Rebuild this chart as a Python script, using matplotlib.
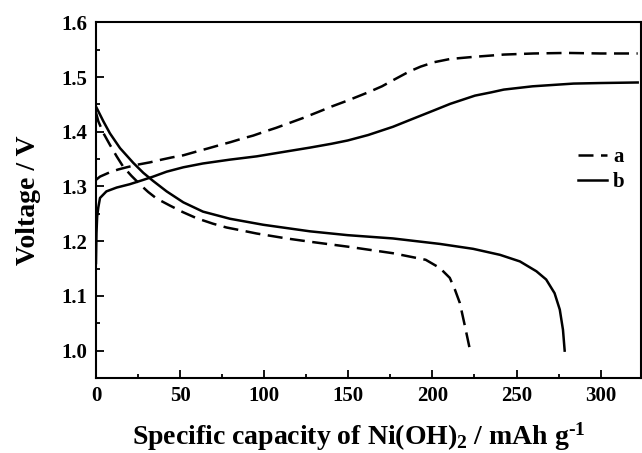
import matplotlib
matplotlib.use('Agg')
import matplotlib.pyplot as plt
from matplotlib.ticker import MultipleLocator

# curve a (dashed) - charge
a_chg_x = [0, 2.4, 8.3, 13.2, 18.2, 25, 32, 39, 45, 52, 60, 66, 74, 80, 87.5,
           93.5, 101, 107, 115, 123, 132, 140, 149.6, 161.8, 170, 176.5, 186.2,
           193, 200.9, 210.6, 225.3, 242.4, 260, 280, 300, 322]
a_chg_y = [1.312, 1.318, 1.326, 1.331, 1.335, 1.340, 1.344, 1.349, 1.353, 1.357, 1.364, 1.369,
           1.376, 1.381, 1.388, 1.393, 1.401, 1.407, 1.416, 1.425, 1.436, 1.446, 1.457, 1.472,
           1.483, 1.494, 1.510, 1.519, 1.527, 1.533, 1.537, 1.541, 1.543, 1.544, 1.543, 1.543]

# curve a (dashed) - discharge
a_dis_x = [0, 1.4, 4.5, 8.3, 12.3, 16.2, 21.2, 27.1, 31, 36, 44, 51.7, 59.8, 69.5, 77.6,
           87.5, 95.5, 103.4, 113.3, 127.2, 149.6, 176.5, 196, 204.4, 210.3, 213.3, 216.3,
           219.3, 222.2]
a_dis_y = [1.435, 1.419, 1.397, 1.376, 1.355, 1.336, 1.319, 1.301, 1.290, 1.278, 1.265, 1.253,
           1.242, 1.232, 1.225, 1.219, 1.214, 1.210, 1.205, 1.199, 1.190, 1.178, 1.166, 1.151,
           1.133, 1.112, 1.087, 1.045, 1.003]

# curve b (solid) - charge
b_chg_x = [0, 0.3, 0.7, 1.4, 2.4, 6.2, 12.3, 20, 28.1, 34, 42, 51.9, 63.6, 79.6, 95.5,
           111.3, 127.2, 140, 149.6, 161.8, 176.5, 186.2, 200.9, 210.6, 225.3, 235, 242.4,
           259.5, 283.9, 300, 322]
b_chg_y = [1.160, 1.215, 1.245, 1.262, 1.279, 1.291, 1.298, 1.304, 1.312, 1.318, 1.327, 1.335,
           1.342, 1.349, 1.355, 1.363, 1.371, 1.378, 1.384, 1.394, 1.409, 1.421, 1.439, 1.451,
           1.466, 1.472, 1.477, 1.483, 1.488, 1.489, 1.490]

# curve b (solid) - discharge
b_dis_x = [0, 4.4, 8.3, 14.3, 22.2, 28.1, 34, 42, 51.9, 63.6, 79.6, 99.4, 127.2, 149.6,
           176.5, 204.4, 224.2, 240.2, 252, 261.8, 267.6, 272.6, 275.7, 277.6, 278.6]
b_dis_y = [1.446, 1.419, 1.397, 1.370, 1.343, 1.325, 1.310, 1.291, 1.271, 1.254, 1.241, 1.230,
           1.218, 1.211, 1.205, 1.195, 1.186, 1.175, 1.163, 1.145, 1.130, 1.105, 1.075, 1.038,
           1.000]

labels = ['a', 'b']

plt.rcParams['font.family'] = 'Liberation Serif'
plt.rcParams['font.weight'] = 'bold'
plt.rcParams['mathtext.fontset'] = 'custom'
plt.rcParams['mathtext.rm'] = 'Liberation Serif:bold'
plt.rcParams['mathtext.bf'] = 'Liberation Serif:bold'
plt.rcParams['mathtext.it'] = 'Liberation Serif:bold'

fig = plt.figure(figsize=(6.42, 4.53), dpi=100)
ax = fig.add_axes([0.1495, 0.1656, 0.849, 0.7852])

lw = 1.8
dash = (0, (6, 3))
la, = ax.plot(a_chg_x, a_chg_y, color='black', lw=lw, linestyle=dash, label=labels[0])
ax.plot(a_dis_x, a_dis_y, color='black', lw=lw, linestyle=dash)
lb, = ax.plot(b_chg_x, b_chg_y, color='black', lw=lw, label=labels[1])
ax.plot(b_dis_x, b_dis_y, color='black', lw=lw)

ax.set_xlim(0, 324)
ax.set_ylim(0.95, 1.6)
ax.xaxis.set_major_locator(MultipleLocator(50))
ax.xaxis.set_minor_locator(MultipleLocator(25))
ax.yaxis.set_major_locator(MultipleLocator(0.1))
ax.yaxis.set_minor_locator(MultipleLocator(0.05))
ax.yaxis.set_major_formatter(plt.FormatStrFormatter('%.1f'))

ax.tick_params(which='both', direction='in', width=1.3, labelsize=15, top=False, right=False)
ax.tick_params(which='major', length=5.5, pad=6)
ax.tick_params(which='minor', length=3)
for s in ax.spines.values():
    s.set_linewidth(1.5)

ax.set_xlabel(r'Specific capacity of Ni(OH)$_{\mathrm{2}}$ / mAh g$^{\mathrm{\text{-}1}}$',
              fontsize=20, fontweight='bold', labelpad=10)
ax.xaxis.label.set_x(0.482)
ax.set_ylabel('Voltage / V', fontsize=20, fontweight='bold', labelpad=15)

leg = ax.legend(handles=[la, lb], loc='center left', bbox_to_anchor=(0.884, 0.5856),
                frameon=False, fontsize=15, handlelength=1.4, handletextpad=0.3,
                labelspacing=0.25, borderpad=0, borderaxespad=0)

fig.savefig('out.png', dpi=100)
plt.close()
